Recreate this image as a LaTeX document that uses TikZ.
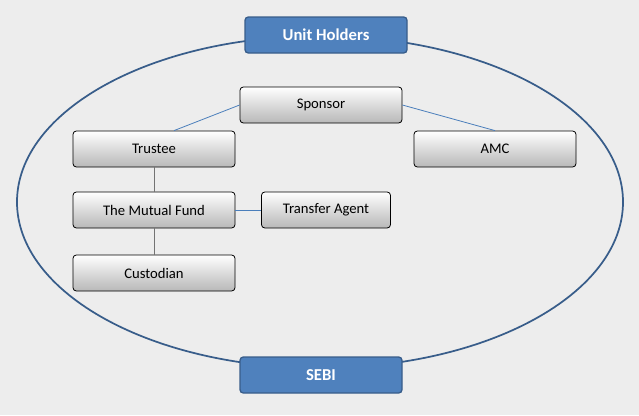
\documentclass[tikz,border=0pt]{standalone}
\usepackage{fontspec}
\setmainfont{Carlito}
\definecolor{bgrey}{RGB}{237,237,237}
\definecolor{hblue}{RGB}{79,129,189}
\definecolor{hedge}{RGB}{56,93,138}
\definecolor{lblue}{RGB}{74,126,187}
\tikzset{every picture/.style={line width=0.75pt}}
\tikzset{
  rolebox/.style={draw=black,line width=0.6pt,rounded corners=2.5pt,top color=white,bottom color=black!28,
    minimum width=121.5pt,minimum height=27pt,inner sep=0pt,font=\fontsize{11}{13}\selectfont},
  headbox/.style={draw=hedge,line width=1pt,rounded corners=2.5pt,fill=hblue,text=white,
    minimum width=121.5pt,minimum height=27pt,inner sep=0pt,font=\fontsize{12.5}{15}\selectfont\bfseries},
  link/.style={draw=lblue,line width=0.6pt},
  glink/.style={draw=black!55,line width=0.6pt}
}
\begin{document}
\begin{tikzpicture}[x=0.75pt,y=0.75pt,yscale=-1,xscale=1]
\fill[bgrey] (0,0) rectangle (639,415);
\useasboundingbox (0,0) rectangle (639,415);
%Ellipse
\draw[hedge,line width=1.3pt] (320,202) ellipse [x radius=303, y radius=166];
%Boxes
\node[rolebox] (sponsor) at (321,105) {Sponsor};
\node[rolebox] (trustee) at (154,149) {Trustee};
\node[rolebox] (amc) at (495,149) {AMC};
\node[rolebox] (fund) at (154,210) {The Mutual Fund};
\node[rolebox,minimum width=96.75pt] (agent) at (326,210) {Transfer Agent};
\node[rolebox] (custodian) at (154,273) {Custodian};
\node[headbox] (holders) at (326,35) {Unit Holders};
\node[headbox] (sebi) at (321,375) {SEBI};
%Links
\draw[link] (sponsor.west) -- ([xshift=15pt]trustee.north);
\draw[link] (sponsor.east) -- (amc.north);
\draw[link] (fund) -- (agent);
\draw[glink] (trustee) -- (fund);
\draw[glink] (fund) -- (custodian);
\end{tikzpicture}
\end{document}
